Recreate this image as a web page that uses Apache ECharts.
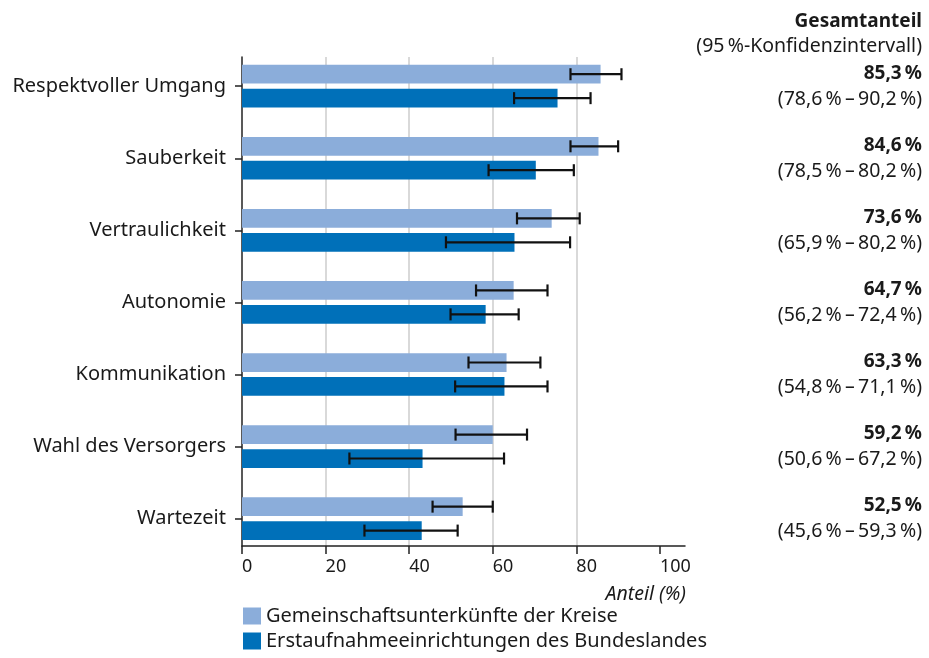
<!DOCTYPE html>
<html>
<head>
<meta charset="utf-8">
<script src="https://cdn.jsdelivr.net/npm/echarts@6/dist/echarts.min.js"></script>
<style>
html,body{margin:0;padding:0;background:#fff;}
#chart{width:929px;height:658px;}
</style>
</head>
<body>
<div id="chart"></div>
<script>
const categories = ['Respektvoller Umgang','Sauberkeit','Vertraulichkeit','Autonomie','Kommunikation','Wahl des Versorgers','Wartezeit'];
const kreise     = [85.8, 85.3, 74.1, 65.0, 63.3, 60.0, 52.8];
const kreiseLow  = [78.6, 78.6, 65.8, 56.0, 54.2, 51.1, 45.6];
const kreiseHigh = [90.8, 90.0, 80.8, 73.1, 71.4, 68.2, 60.0];
const land       = [75.5, 70.3, 65.2, 58.3, 62.8, 43.2, 43.0];
const landLow    = [65.1, 59.0, 48.8, 49.9, 51.0, 25.7, 29.3];
const landHigh   = [83.4, 79.4, 78.5, 66.2, 73.1, 62.7, 51.6];
const total      = ['85,3','84,6','73,6','64,7','63,3','59,2','52,5'];
const totalLow   = ['78,6','78,5','65,9','56,2','54,8','50,6','45,6'];
const totalHigh  = ['90,2','80,2','80,2','72,4','71,1','67,2','59,3'];
const xTicks     = [0, 20, 40, 60, 80, 100];
const seriesNames = ['Gemeinschaftsunterkünfte der Kreise', 'Erstaufnahmeeinrichtungen des Bundeslandes'];

const FONT = '"Noto Sans", sans-serif';
const TXT = '#1a1a1a';
const COL_LIGHT = '#8badda';
const COL_DARK = '#0070b9';
const NS = '\u202F';
const BAR_FRAC = 0.26;
const OFF_FRAC = 0.166;

const chart = echarts.init(document.getElementById('chart'), null, {renderer: 'canvas'});

function barRender(sign) {
  return function (params, api) {
    const v = api.value(0), i = api.value(1);
    const p0 = api.coord([0, i]);
    const p1 = api.coord([v, i]);
    const band = api.size([0, 1])[1];
    const bw = band * BAR_FRAC;
    const cy = p0[1] + sign * band * OFF_FRAC;
    return {
      type: 'rect',
      shape: {x: p0[0], y: cy - bw / 2, width: p1[0] - p0[0], height: bw},
      style: {fill: api.visual('color')}
    };
  };
}
function errRender(sign) {
  return function (params, api) {
    const lo = api.value(0), hi = api.value(1), i = api.value(2);
    const a = api.coord([lo, i]);
    const b = api.coord([hi, i]);
    const band = api.size([0, 1])[1];
    const cy = a[1] + sign * band * OFF_FRAC;
    const cap = 6;
    const st = {stroke: '#111', lineWidth: 2.2};
    return {
      type: 'group',
      children: [
        {type: 'line', shape: {x1: a[0], y1: cy, x2: b[0], y2: cy}, style: st},
        {type: 'line', shape: {x1: a[0], y1: cy - cap, x2: a[0], y2: cy + cap}, style: st},
        {type: 'line', shape: {x1: b[0], y1: cy - cap, x2: b[0], y2: cy + cap}, style: st}
      ]
    };
  };
}
function totalRender(params, api) {
  const i = api.value(1);
  const p = api.coord([0, i]);
  const band = api.size([0, 1])[1];
  const x = api.getWidth() - 7;
  const k = params.dataIndex;
  return {
    type: 'group',
    children: [
      {type: 'text', x: x, y: p[1] - band * OFF_FRAC - 1,
       style: {text: total[k] + NS + '%', textAlign: 'right', textVerticalAlign: 'middle',
               fontFamily: FONT, fontSize: 19, fontWeight: 'bold', fill: TXT}},
      {type: 'text', x: x, y: p[1] + band * OFF_FRAC + 1,
       style: {text: '(' + totalLow[k] + NS + '%\u2009\u2013\u2009' + totalHigh[k] + NS + '%)', textAlign: 'right', textVerticalAlign: 'middle',
               fontFamily: FONT, fontSize: 19.5, fill: TXT}}
    ]
  };
}

const legendCommon = {
  orient: 'vertical', left: 238, padding: [0, 0, 0, 5],
  itemWidth: 18, itemHeight: 17, itemGap: 6,
  icon: 'rect',
  textStyle: {fontSize: 20, color: TXT, fontFamily: FONT}
};

const option = {
  animation: false,
  backgroundColor: '#ffffff',
  textStyle: {fontFamily: FONT},
  grid: {left: 242, right: 244, top: 57, bottom: 112, containLabel: false},
  xAxis: {
    type: 'value', min: 0, max: 106, interval: 20,
    axisLine: {show: true, onZero: false, lineStyle: {color: '#222', width: 1.5}},
    axisTick: {show: true, length: 8, customValues: xTicks, lineStyle: {color: '#222', width: 1.5}},
    axisLabel: {customValues: xTicks, align: 'left', margin: 12, fontSize: 18, color: TXT, fontFamily: FONT,
                formatter: v => String(v)},
    splitLine: {show: true, showMinLine: false, showMaxLine: false, lineStyle: {color: '#cccccc', width: 1.5}}
  },
  yAxis: {
    type: 'value', inverse: true, min: -0.405, max: 6.38,
    axisLine: {show: true, onZero: false, lineStyle: {color: '#222', width: 1.5}},
    axisTick: {show: true, length: 7, customValues: [0,1,2,3,4,5,6], lineStyle: {color: '#222', width: 1.5}},
    axisLabel: {customValues: [0,1,2,3,4,5,6], margin: 16, fontSize: 20, color: TXT, fontFamily: FONT,
                formatter: v => categories[Math.round(v)]},
    splitLine: {show: false}
  },
  legend: [
    Object.assign({}, legendCommon, {top: 606, data: [seriesNames[0]]}),
    Object.assign({}, legendCommon, {top: 631, data: [seriesNames[1]]})
  ],
  graphic: [
    {type: 'text', right: 7, top: 12, style: {text: 'Gesamtanteil', fontFamily: FONT, fontSize: 19, fontWeight: 'bold', fill: TXT}},
    {type: 'text', right: 7, top: 36, style: {text: '(95' + NS + '%-Konfidenzintervall)', fontFamily: FONT, fontSize: 19.5, fill: TXT}},
    {type: 'text', right: 243, top: 584, style: {text: 'Anteil (%)', fontFamily: FONT, fontSize: 19.5, fontStyle: 'italic', fill: TXT}}
  ],
  series: [
    {name: seriesNames[0], type: 'custom', itemStyle: {color: COL_LIGHT}, encode: {x: 0, y: 1},
     renderItem: barRender(-1), data: kreise.map((v, i) => [v, i]), z: 2},
    {name: seriesNames[1], type: 'custom', itemStyle: {color: COL_DARK}, encode: {x: 0, y: 1},
     renderItem: barRender(1), data: land.map((v, i) => [v, i]), z: 2},
    {name: 'errKreise', type: 'custom', encode: {x: [0, 1], y: 2}, renderItem: errRender(-1),
     data: kreiseLow.map((v, i) => [v, kreiseHigh[i], i]), z: 3},
    {name: 'errLand', type: 'custom', encode: {x: [0, 1], y: 2}, renderItem: errRender(1),
     data: landLow.map((v, i) => [v, landHigh[i], i]), z: 3},
    {name: 'total', type: 'custom', encode: {x: 0, y: 1}, renderItem: totalRender,
     data: total.map((v, i) => [0, i]), z: 3, silent: true}
  ]
};
chart.setOption(option);
</script>
</body>
</html>
